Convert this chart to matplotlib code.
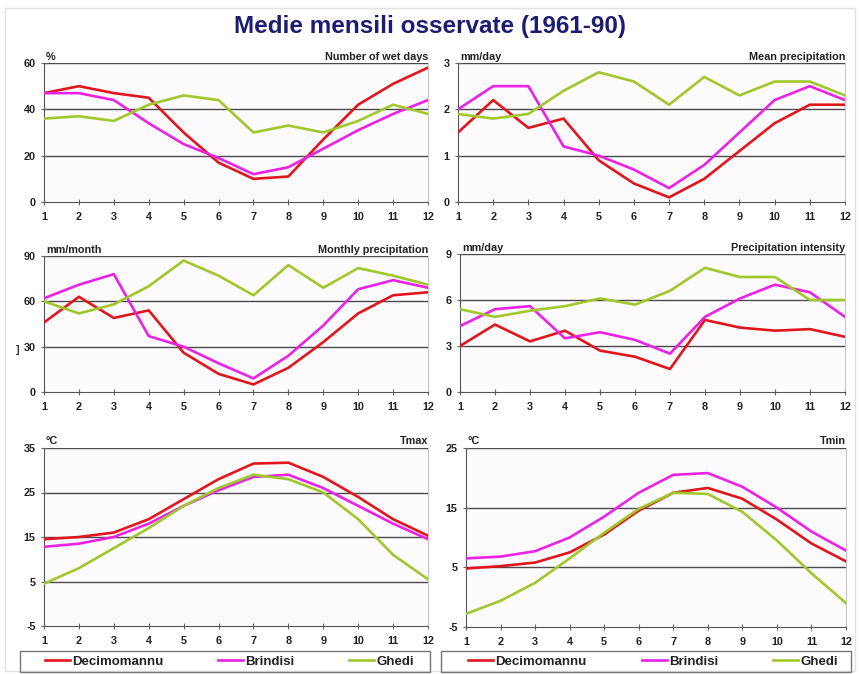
import matplotlib.pyplot as plt
from matplotlib.lines import Line2D
from matplotlib.patches import Rectangle

plt.rcParams['font.family'] = ['Liberation Sans', 'DejaVu Sans']
plt.rcParams['axes.unicode_minus'] = False

# ---------- DATA ----------
months = list(range(1, 13))
stations = ["Decimomannu", "Brindisi", "Ghedi"]
colors = ["#e0161c", "#ea22e6", "#9fc82a"]

wet_days_deci = [47, 50, 47, 45, 30, 17, 10, 11, 27, 42, 51, 58]
wet_days_brin = [47, 47, 44, 34, 25, 19, 12, 15, 23, 31, 38, 44]
wet_days_ghed = [36, 37, 35, 42, 46, 44, 30, 33, 30, 35, 42, 38]

mean_prec_deci = [1.5, 2.2, 1.6, 1.8, 0.9, 0.4, 0.1, 0.5, 1.1, 1.7, 2.1, 2.1]
mean_prec_brin = [2.0, 2.5, 2.5, 1.2, 1.0, 0.7, 0.3, 0.8, 1.5, 2.2, 2.5, 2.2]
mean_prec_ghed = [1.9, 1.8, 1.9, 2.4, 2.8, 2.6, 2.1, 2.7, 2.3, 2.6, 2.6, 2.3]

month_prec_deci = [46, 63, 49, 54, 26, 12, 5, 16, 33, 52, 64, 66]
month_prec_brin = [62, 71, 78, 37, 30, 19, 9, 24, 44, 68, 74, 69]
month_prec_ghed = [60, 52, 58, 70, 87, 77, 64, 84, 69, 82, 77, 71]

intensity_deci = [3.0, 4.4, 3.3, 4.0, 2.7, 2.3, 1.5, 4.7, 4.2, 4.0, 4.1, 3.6]
intensity_brin = [4.3, 5.4, 5.6, 3.5, 3.9, 3.4, 2.5, 4.9, 6.1, 7.0, 6.5, 4.9]
intensity_ghed = [5.4, 4.9, 5.3, 5.6, 6.1, 5.7, 6.6, 8.1, 7.5, 7.5, 6.0, 6.0]

tmax_deci = [14.5, 15.0, 16.0, 19.0, 23.5, 28.0, 31.5, 31.7, 28.5, 24.0, 19.0, 15.3]
tmax_brin = [12.8, 13.5, 15.0, 18.0, 22.0, 25.5, 28.5, 29.0, 26.0, 22.0, 18.0, 14.5]
tmax_ghed = [4.5, 8.0, 12.5, 17.0, 22.0, 26.0, 29.0, 28.0, 25.0, 19.0, 11.0, 5.5]

tmin_deci = [4.8, 5.2, 5.8, 7.5, 10.5, 14.5, 17.5, 18.3, 16.5, 13.0, 9.0, 6.0]
tmin_brin = [6.5, 6.8, 7.7, 10.0, 13.5, 17.5, 20.5, 20.8, 18.5, 15.0, 11.0, 7.8]
tmin_ghed = [-2.8, -0.6, 2.4, 6.5, 10.8, 14.8, 17.5, 17.3, 14.3, 9.5, 4.0, -1.0]
# ----------------------------------------------------------

W, H = 859, 674
fig = plt.figure(figsize=(W / 100, H / 100), dpi=100)
fig.patch.set_facecolor("white")

# faint outer frame of the original slide
fig.add_artist(Rectangle((0.006, 0.004), 0.989, 0.984, transform=fig.transFigure,
                         fill=False, ec="#e4e0e4", lw=1))

fig.text(0.5, 0.961, "Medie mensili osservate (1961-90)", ha="center", va="center",
         fontsize=17.5, fontweight="bold", color="#1c1c72")


def px_axes(left, right, top, bottom):
    """Axes from pixel edges of the reference picture."""
    return fig.add_axes([left / W, 1 - bottom / H, (right - left) / W, (bottom - top) / H])


def panel(ax, series, yticks, unit, title):
    ax.set_facecolor("#fefbfe")
    for vals, col in zip(series, colors):
        ax.plot(months, vals, color=col, lw=1.9, solid_joinstyle="round", zorder=3)
    ax.set_xlim(1, 12)
    ax.set_ylim(yticks[0], yticks[-1])
    ax.set_xticks(months)
    ax.set_yticks(yticks)
    for y in yticks[1:]:
        ax.axhline(y, color="#4a4a4a", lw=1.0, zorder=1)
    ax.spines["top"].set_visible(False)
    ax.spines["right"].set_color("#c8c4c8")
    ax.spines["left"].set_color("#555555")
    ax.spines["bottom"].set_color("#555555")
    ax.tick_params(axis="both", direction="inout", length=4, width=0.8,
                   color="#666666", labelsize=7.8, pad=4)
    ax.tick_params(axis="x", pad=5)
    for lab in ax.get_xticklabels() + ax.get_yticklabels():
        lab.set_fontweight("bold")
        lab.set_color("#222222")
    ax.text(0.005, 1.01, unit, transform=ax.transAxes, ha="left", va="bottom",
            fontsize=7.8, fontweight="bold", color="#222222")
    ax.text(1.0, 1.01, title, transform=ax.transAxes, ha="right", va="bottom",
            fontsize=7.8, fontweight="bold", color="#222222")


ax1 = px_axes(44, 428, 63, 202)
panel(ax1, [wet_days_deci, wet_days_brin, wet_days_ghed], [0, 20, 40, 60],
      "%", "Number of wet days")

ax2 = px_axes(458, 845, 63, 202)
panel(ax2, [mean_prec_deci, mean_prec_brin, mean_prec_ghed], [0, 1, 2, 3],
      "mm/day", "Mean precipitation")

ax3 = px_axes(44, 428, 256, 392)
panel(ax3, [month_prec_deci, month_prec_brin, month_prec_ghed], [0, 30, 60, 90],
      "mm/month", "Monthly precipitation")
fig.text(18 / W, 1 - 350 / H, "]", fontsize=8, fontweight="bold", ha="center", va="center",
         color="#333333")

ax4 = px_axes(460, 845, 254, 392)
panel(ax4, [intensity_deci, intensity_brin, intensity_ghed], [0, 3, 6, 9],
      "mm/day", "Precipitation intensity")

ax5 = px_axes(44, 428, 448, 626)
panel(ax5, [tmax_deci, tmax_brin, tmax_ghed], [-5, 5, 15, 25, 35],
      "°C", "Tmax")

ax6 = px_axes(466, 846, 448, 627)
panel(ax6, [tmin_deci, tmin_brin, tmin_ghed], [-5, 5, 15, 25],
      "°C", "Tmin")

# legends under the two bottom panels: box drawn separately, entries spread inside
handles = [Line2D([], [], color=c, lw=1.9) for c in colors]
for (bx0, bx1), (lx0, lx1) in [((20, 430), (45, 414)), ((441, 851), (468, 838))]:
    fig.add_artist(Rectangle((bx0 / W, 1 - 672 / H), (bx1 - bx0) / W, 21 / H,
                             transform=fig.transFigure, fill=False,
                             ec="#777777", lw=1.0))
    leg = fig.legend(handles, stations, ncol=3, mode="expand",
                     bbox_to_anchor=(lx0 / W, 1 - 672 / H, (lx1 - lx0) / W, 21 / H),
                     loc="center", frameon=False, borderaxespad=0,
                     handlelength=1.9, handletextpad=0.15, borderpad=0.0,
                     prop={"size": 9.5, "weight": "bold"})
    for t in leg.get_texts():
        t.set_color("#222222")

fig.savefig("out.png", dpi=100, facecolor="white")
